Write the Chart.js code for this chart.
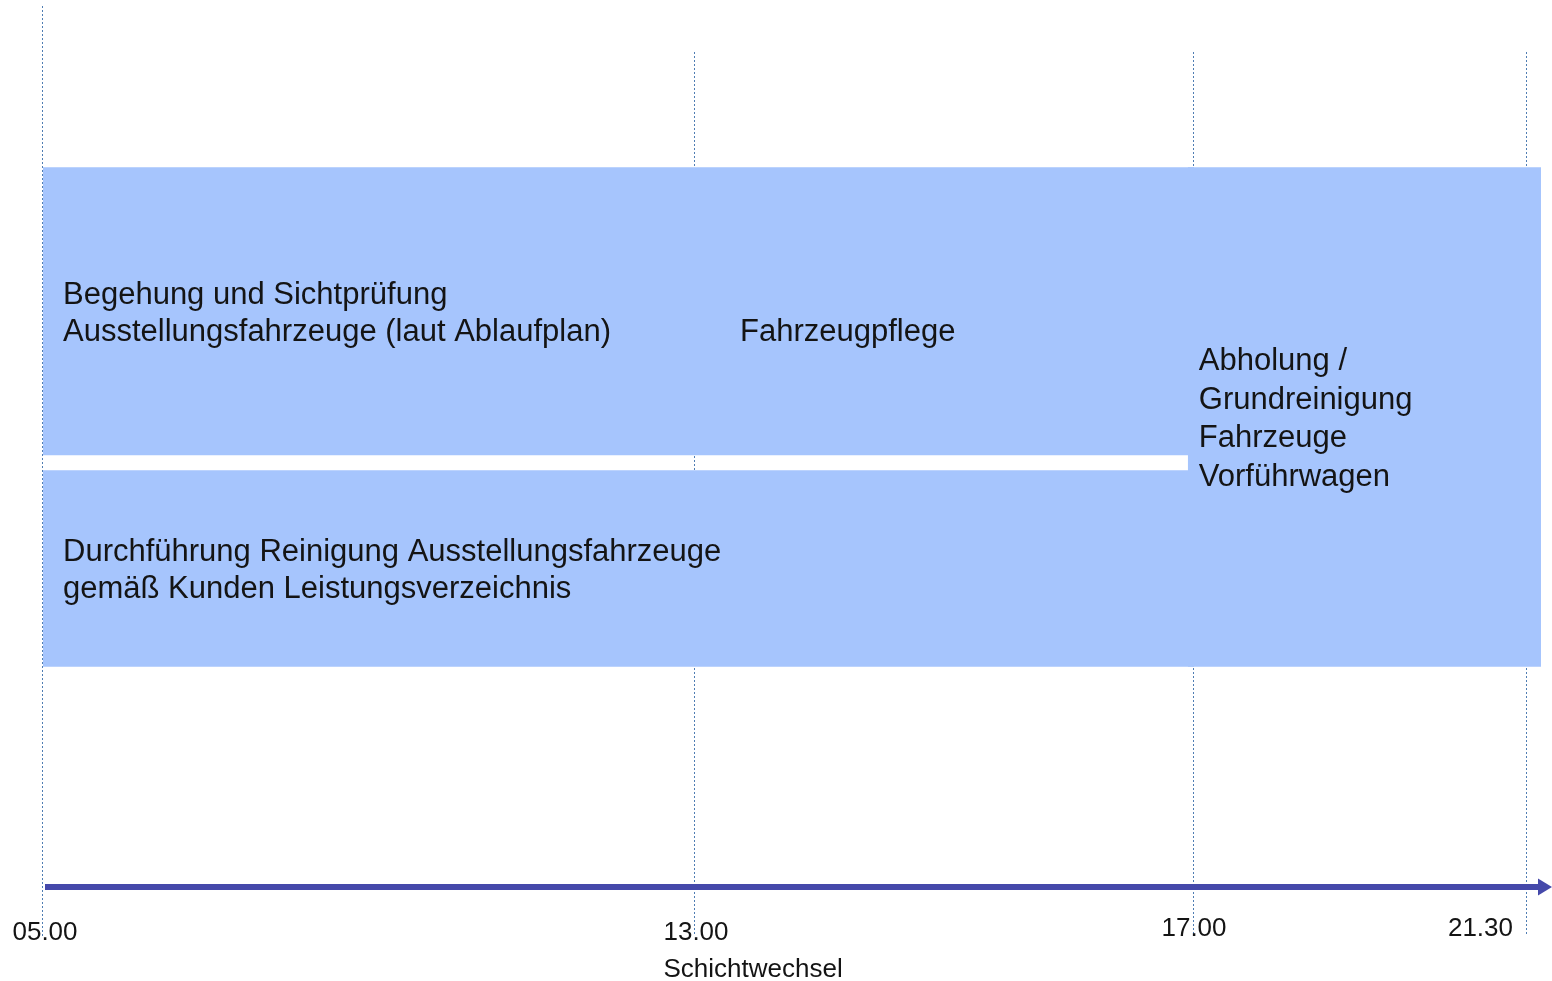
<!DOCTYPE html>
<html lang="de">
<head>
<meta charset="utf-8">
<title>Ablauf Schicht</title>
<script src="https://cdn.jsdelivr.net/npm/chart.js@4.4.1/dist/chart.umd.min.js"></script>
<style>
  html, body { margin:0; padding:0; background:#fff; }
  #wrap { position:relative; width:1552px; height:981px; }
</style>
</head>
<body>
<div id="wrap"><canvas id="shiftChart"></canvas></div>
<script>
// tasks: label lines, time span (hours), lane extent on the hidden y axis (0-100)
const taskLabels = [
  ['Begehung und Sichtprüfung', 'Ausstellungsfahrzeuge (laut Ablaufplan)'],
  ['Fahrzeugpflege'],
  ['Durchführung Reinigung Ausstellungsfahrzeuge', 'gemäß Kunden Leistungsverzeichnis'],
  ['Abholung /', 'Grundreinigung', 'Fahrzeuge', 'Vorführwagen']
];
const taskStart = [5, 13, 5, 16.95];
const taskEnd   = [13, 17, 17, 21.7];
const laneLow   = [49, 49, 25, 25];
const laneHigh  = [81.7, 81.7, 47.3, 81.7];

const tickHours  = [5, 13, 17, 21.5];
const tickLabels = ['05.00', '13.00', '17.00', '21.30'];
const tickNotes  = ['', 'Schichtwechsel', '', ''];

// styling
const FONT = "'Helvetica Neue', 'Liberation Sans', Arial, sans-serif";
const BAR = '#A6C5FD';
const AXIS = '#4549AA';
const GRID = '#4F7DB3';
const TEXT = '#141414';
const labelPadX = [20, 45, 20, 11];
const labelShiftY = [0, 19, 0, 0];
const labelLineH = [37, 37, 37, 38.5];
const tickAlign = ['center', 'center', 'center', 'right'];
const tickDx = [2, 1, 0, -14];
const tickDy = [53, 53, 49, 49];
const gridTop = [6, 52, 52, 52];

// the original time axis is not to scale: 05-13 squeezed, 13-17 stretched
const timeAnchors = [5, 13, 17, 21.5, 21.7];
const timeDecimals = [0, 0.43525, 0.76836, 0.99065, 1];

function interp(v, xs, ys) {
  let i = 1;
  while (i < xs.length - 1 && v > xs[i]) i++;
  const t = (v - xs[i-1]) / (xs[i] - xs[i-1]);
  return ys[i-1] + t * (ys[i] - ys[i-1]);
}

class ShiftScale extends Chart.LinearScale {
  getPixelForValue(value) {
    if (value === null || isNaN(value)) return NaN;
    return this.getPixelForDecimal(interp(value, timeAnchors, timeDecimals));
  }
  getValueForPixel(pixel) {
    return interp(this.getDecimalForPixel(pixel), timeDecimals, timeAnchors);
  }
}
ShiftScale.id = 'shift';
ShiftScale.defaults = Chart.LinearScale.defaults;
Chart.register(ShiftScale);

const shiftDecor = {
  id: 'shiftDecor',
  beforeDatasetsDraw(chart) {
    const { ctx, scales: { x, y } } = chart;
    const bottom = y.getPixelForValue(0) + 49;
    ctx.save();
    ctx.strokeStyle = GRID;
    ctx.lineWidth = 1;
    ctx.setLineDash([2, 2]);
    tickHours.forEach((h, i) => {
      const px = Math.round(x.getPixelForValue(h)) - 0.5;
      ctx.beginPath();
      ctx.moveTo(px, gridTop[i]);
      ctx.lineTo(px, bottom);
      ctx.stroke();
    });
    ctx.restore();
  },
  afterDatasetsDraw(chart) {
    const { ctx, chartArea, scales: { x, y } } = chart;
    const axisY = y.getPixelForValue(0);

    // time arrow
    ctx.save();
    ctx.fillStyle = AXIS;
    ctx.fillRect(chartArea.left + 2, axisY - 3, chartArea.right - chartArea.left - 4, 6);
    ctx.beginPath();
    ctx.moveTo(chartArea.right - 3, axisY - 8.5);
    ctx.lineTo(chartArea.right + 11, axisY);
    ctx.lineTo(chartArea.right - 3, axisY + 8.5);
    ctx.closePath();
    ctx.fill();

    // task labels
    ctx.fillStyle = TEXT;
    ctx.font = '31px ' + FONT;
    ctx.textAlign = 'left';
    ctx.textBaseline = 'alphabetic';
    taskLabels.forEach((lines, i) => {
      const x0 = x.getPixelForValue(taskStart[i]) + labelPadX[i];
      const yc = (y.getPixelForValue(laneLow[i]) + y.getPixelForValue(laneHigh[i])) / 2 + labelShiftY[i];
      const n = lines.length;
      lines.forEach((t, k) => {
        ctx.fillText(t, x0, yc + 11 + (k - (n - 1) / 2) * labelLineH[i]);
      });
    });

    // tick labels
    ctx.font = '26px ' + FONT;
    tickHours.forEach((h, i) => {
      const px = x.getPixelForValue(h) + tickDx[i];
      const by = axisY + tickDy[i];
      ctx.textAlign = tickAlign[i];
      ctx.fillText(tickLabels[i], px, by);
      if (tickNotes[i]) {
        const w = ctx.measureText(tickLabels[i]).width;
        ctx.textAlign = 'left';
        ctx.fillText(tickNotes[i], px - w / 2, by + 37);
      }
    });
    ctx.restore();
  }
};

new Chart(document.getElementById('shiftChart'), {
  type: 'line',
  data: {
    datasets: taskLabels.map((lines, i) => ({
      label: lines.join(' '),
      data: [{ x: taskStart[i], y: laneHigh[i] }, { x: taskEnd[i], y: laneHigh[i] }],
      fill: { value: laneLow[i] },
      backgroundColor: BAR,
      borderColor: 'rgba(0,0,0,0)',
      borderWidth: 0,
      pointRadius: 0,
      pointHoverRadius: 0,
      tension: 0
    }))
  },
  options: {
    responsive: true,
    maintainAspectRatio: false,
    animation: false,
    events: [],
    layout: { padding: { left: 43, right: 11, top: 6, bottom: 94 } },
    plugins: { legend: { display: false }, tooltip: { enabled: false } },
    scales: {
      x: { type: 'shift', display: false, min: 5, max: 21.7 },
      y: { type: 'linear', display: false, min: 0, max: 100 }
    }
  },
  plugins: [shiftDecor]
});
</script>
</body>
</html>
